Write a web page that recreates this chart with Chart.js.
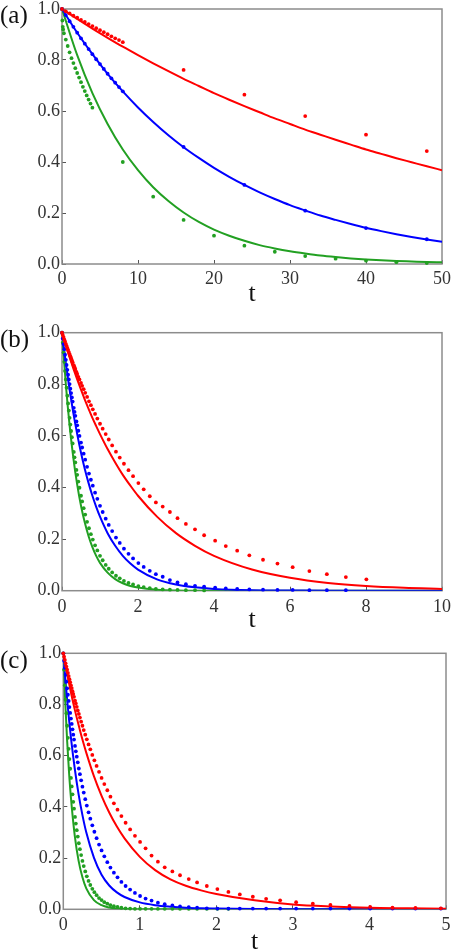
<!DOCTYPE html>
<html><head><meta charset="utf-8">
<script src="https://cdn.jsdelivr.net/npm/chart.js@4.4.1/dist/chart.umd.min.js"></script>
<style>
html,body{margin:0;padding:0;background:#fff;overflow:hidden;width:452px;height:951px;}
canvas{position:absolute;left:0;}
.lbl{position:absolute;left:0;font-family:'Liberation Serif',serif;font-size:25px;color:#111;line-height:1;}
</style></head><body>
<canvas id="ca" width="452" height="310" style="top:0px"></canvas>
<canvas id="cb" width="452" height="325" style="top:310px"></canvas>
<canvas id="cc" width="452" height="316" style="top:635px"></canvas>
<div class="lbl" style="top:2px">(a)</div>
<div class="lbl" style="top:326px">(b)</div>
<div class="lbl" style="top:647px">(c)</div>
<script>
// ---------- Panel (a) ----------
const tLineA = [0,2,4,6,8,10,12,14,16,18,20,22,24,26,28,30,32,34,36,38,40,42,44,46,48,50];
const redLineA = [1,0.961,0.923,0.887,0.852,0.819,0.787,0.756,0.726,0.698,0.670,0.644,0.619,0.595,0.571,0.549,0.527,0.507,0.487,0.468,0.449,0.432,0.415,0.399,0.383,0.368];
const blueLineA = [1,0.907,0.823,0.746,0.677,0.614,0.557,0.505,0.458,0.416,0.377,0.342,0.310,0.281,0.255,0.231,0.210,0.190,0.173,0.157,0.142,0.129,0.117,0.106,0.096,0.087];
const greenLineA = [1,0.819,0.670,0.549,0.449,0.368,0.301,0.247,0.202,0.165,0.135,0.111,0.091,0.074,0.061,0.050,0.041,0.033,0.027,0.022,0.018,0.015,0.012,0.010,0.008,0.007];
const tDotA = [0,0.5,1,1.5,2,2.5,3,3.5,4,4.5,5,5.5,6,6.5,7,7.5,8,16,24,32,40,48];
const redDotA = [1,0.991,0.983,0.974,0.966,0.957,0.949,0.941,0.933,0.925,0.917,0.909,0.901,0.893,0.885,0.878,0.870,0.761,0.664,0.580,0.507,0.443];
const blueDotA = [1,0.976,0.952,0.930,0.907,0.885,0.864,0.843,0.823,0.803,0.784,0.765,0.746,0.728,0.711,0.694,0.677,0.459,0.310,0.209,0.141,0.097];
const tDotGA = [0,0.05,0.1,0.15,0.25,0.5,0.75,1,1.25,1.5,1.75,2,2.25,2.5,2.75,3,3.25,3.5,3.75,4,8,12,16,20,24,28,32,36,40,44,48];
const greenDotA = [1.0,0.955,0.93,0.92,0.905,0.88,0.855,0.83,0.807,0.788,0.768,0.749,0.731,0.713,0.695,0.678,0.661,0.645,0.629,0.613,0.40,0.264,0.173,0.111,0.072,0.048,0.031,0.021,0.013,0.007,0.004];
const xTicksA = [0,10,20,30,40,50];

// ---------- Panel (b) ----------
const tLineB = [0,0.1,0.2,0.3,0.4,0.5,0.6,0.7,0.8,0.9,1.0,1.2,1.4,1.6,1.8,2.0,2.5,3.0,3.5,4.0,5.0,6.0,7.0,8.0,9.0,10.0];
const redLineB = [1,0.951,0.905,0.861,0.819,0.779,0.741,0.705,0.670,0.638,0.607,0.549,0.497,0.449,0.407,0.368,0.287,0.223,0.174,0.135,0.082,0.050,0.030,0.018,0.011,0.007];
const blueLineB = [1,0.882,0.779,0.687,0.607,0.535,0.472,0.417,0.368,0.325,0.287,0.223,0.174,0.135,0.105,0.082,0.044,0.024,0.013,0.007,0.002,0.001,0,0,0,0];
const greenLineB = [1,0.801,0.641,0.513,0.411,0.329,0.264,0.211,0.169,0.135,0.108,0.070,0.045,0.029,0.018,0.012,0.004,0.001,0,0,0,0,0,0,0,0];
const tDotB = [0,0.02,0.04,0.06,0.08,0.10,0.12,0.14,0.16,0.18,0.20,0.22,0.24,0.26,0.28,
  0.31,0.33,0.35,0.38,0.40,0.43,0.46,0.50,0.53,0.57,
  0.61,0.66,0.71,0.76,0.81,0.87,0.93,1.00,1.07,1.15,
  1.23,1.32,1.42,1.52,1.63,1.75,1.87,2.01,2.15,2.31,
  2.47,2.65,2.84,3.04,3.26,3.50,3.74,4.03,4.31,4.61,
  4.93,5.29,5.67,6.07,6.51,6.97,7.47,8.01];
const redDotB = [1,0.991,0.983,0.974,0.966,0.957,0.949,0.941,0.933,0.925,0.917,0.909,0.901,0.893,0.885,
  0.874,0.866,0.859,0.848,0.840,0.829,0.819,0.805,0.794,0.781,
  0.767,0.751,0.734,0.719,0.703,0.685,0.667,0.647,0.628,0.607,
  0.586,0.563,0.539,0.516,0.492,0.467,0.444,0.417,0.393,0.366,
  0.342,0.326,0.305,0.281,0.259,0.238,0.215,0.194,0.173,0.155,
  0.137,0.120,0.105,0.091,0.076,0.064,0.053,0.044];
const blueDotB = [1,0.978,0.956,0.936,0.915,0.895,0.875,0.856,0.837,0.819,0.801,0.783,0.766,0.749,0.733,
  0.709,0.693,0.678,0.656,0.641,0.620,0.600,0.574,0.555,0.531,
  0.508,0.480,0.454,0.430,0.407,0.380,0.356,0.329,0.305,0.279,
  0.255,0.231,0.206,0.185,0.163,0.143,0.125,0.107,0.092,0.077,
  0.064,0.054,0.041,0.032,0.025,0.019,0.016,0.012,0.009,0.007,
  0.005,0.004,0.003,0.003,0.002,0.002,0.002];
const greenDotB = [1,0.961,0.923,0.887,0.852,0.819,0.787,0.756,0.726,0.698,0.670,0.644,0.619,0.595,0.571,
  0.538,0.517,0.497,0.468,0.449,0.423,0.399,0.368,0.346,0.320,
  0.295,0.267,0.242,0.219,0.198,0.176,0.156,0.135,0.118,0.100,
  0.085,0.071,0.058,0.048,0.038,0.030,0.024,0.018,0.014,0.010,
  0.007,0.005,0.004,0.003,0.002,0.002,0.001];
const xTicksB = [0,2,4,6,8,10];

// ---------- Panel (c) ----------
const tLineC = [0,0.025,0.05,0.075,0.1,0.15,0.2,0.25,0.3,0.4,0.5,0.6,0.7,0.8,1.0,1.2,1.4,1.6,1.8,2.0,2.5,3.0,3.5,4.0,4.5,5.0];
const redLineC = [1,0.96,0.92,0.883,0.847,0.78,0.72,0.663,0.612,0.52,0.443,0.378,0.323,0.277,0.205,0.153,0.117,0.092,0.074,0.060,0.035,0.019,0.011,0.006,0.004,0.002];
const blueLineC = [1,0.905,0.819,0.741,0.670,0.549,0.449,0.368,0.301,0.202,0.135,0.093,0.066,0.048,0.027,0.016,0.010,0.006,0.004,0.003,0.001,0,0,0,0,0];
const greenLineC = [1,0.812,0.659,0.535,0.435,0.287,0.189,0.125,0.082,0.036,0.016,0.007,0.003,0.001,0,0,0,0,0,0,0,0,0,0,0,0];
const tDotC = [0,0.01,0.02,0.03,0.04,0.05,0.06,0.07,0.08,0.09,0.10,0.11,0.12,0.13,0.14,
  0.153,0.164,0.176,0.189,0.203,0.217,0.233,0.250,0.267,0.287,
  0.307,0.330,0.353,0.379,0.406,0.435,0.467,0.500,0.536,0.575,
  0.616,0.661,0.708,0.759,0.814,0.873,0.936,1.003,1.075,1.153,
  1.236,1.325,1.425,1.525,1.639,1.748,1.875,2.013,2.157,2.306,
  2.476,2.650,2.833,3.042,3.260,3.490,3.739,4.009,4.301,4.601,
  4.933];
const redDotC = [1,0.987,0.974,0.961,0.948,0.936,0.923,0.911,0.899,0.887,0.875,0.864,0.852,0.841,0.830,
  0.815,0.804,0.791,0.777,0.763,0.749,0.733,0.717,0.700,0.682,
  0.664,0.644,0.625,0.603,0.582,0.560,0.537,0.513,0.489,0.465,
  0.440,0.414,0.389,0.364,0.338,0.312,0.287,0.263,0.238,0.210,
  0.186,0.164,0.148,0.133,0.118,0.105,0.091,0.079,0.068,0.058,
  0.049,0.041,0.035,0.028,0.022,0.017,0.013,0.009,0.006,0.005,
  0.004];
const blueDotC = [1,0.971,0.943,0.916,0.889,0.863,0.838,0.814,0.790,0.767,0.745,0.724,0.703,0.682,0.663,
  0.638,0.617,0.596,0.574,0.550,0.528,0.504,0.479,0.456,0.430,
  0.405,0.379,0.354,0.328,0.303,0.278,0.253,0.230,0.207,0.184,
  0.163,0.143,0.125,0.107,0.091,0.077,0.064,0.052,0.042,0.034,
  0.026,0.020,0.015,0.011,0.008,0.006,0.004,0.003,0.003,0.003,
  0.003,0.003,0.003,0.003,0.003,0.003,0.003,0.003,0.003,0.003,
  0.003];
const greenDotC = [1,0.936,0.875,0.819,0.766,0.717,0.670,0.627,0.587,0.549,0.513,0.480,0.449,0.420,0.393,
  0.361,0.335,0.309,0.284,0.258,0.235,0.212,0.189,0.169,0.148,
  0.129,0.111,0.095,0.080,0.067,0.055,0.044,0.036,0.028,0.022,
  0.016,0.012,0.009,0.006,0.004,0.003,0.002,0.002,0.002,0.002,
  0.002,0.002,0.002,0.002,0.002,0.002,0.002,0.002,0.002];
const xTicksC = [0,1,2,3,4,5];
const yTicks = [0,0.2,0.4,0.6,0.8,1.0];

const RED = 'rgb(255,0,0)', BLUE = 'rgb(0,0,255)', GREEN = 'rgb(34,160,34)';
const FONT = "'Liberation Serif', 'Times New Roman', serif";

const framePlugin = {
  id: 'frame',
  beforeDatasetsDraw(chart) {
    const a = chart.chartArea, ctx = chart.ctx;
    ctx.save();
    ctx.strokeStyle = '#8c8c8c';
    ctx.lineWidth = 1.5;
    ctx.strokeRect(a.left, a.top, a.right - a.left, a.bottom - a.top);
    ctx.restore();
  }
};

function pts(t, v) { return v.map((y, i) => ({x: t[i], y: y})); }
function dotSet(t, v, c) {
  return {data: pts(t, v), showLine: false, pointRadius: 1.9, pointBackgroundColor: c,
          pointBorderWidth: 0, pointBorderColor: c, clip: false};
}
function lineSet(t, v, c) {
  return {data: pts(t, v), showLine: true, borderColor: c, borderWidth: 2, pointRadius: 0,
          cubicInterpolationMode: 'monotone', fill: false};
}

function makeChart(id, cfg) {
  new Chart(document.getElementById(id), {
    type: 'scatter',
    data: {datasets: cfg.datasets},
    options: {
      responsive: false, animation: false, events: [],
      layout: {padding: {top: cfg.top, right: cfg.right, left: 0, bottom: 0}},
      plugins: {legend: {display: false}, tooltip: {enabled: false}},
      scales: {
        x: {
          type: 'linear', min: 0, max: cfg.xTicks[cfg.xTicks.length - 1],
          afterBuildTicks: s => { s.ticks = cfg.xTicks.map(v => ({value: v})); },
          ticks: {padding: cfg.xpad, color: '#333', font: {family: FONT, size: 18}, maxRotation: 0, autoSkip: false},
          grid: {drawOnChartArea: false, tickLength: -4, color: '#555', lineWidth: 1},
          border: {display: false},
          title: {display: true, text: 't', color: '#111', font: {family: FONT, size: 26, lineHeight: 1},
                  padding: {top: 0, bottom: cfg.tpad}},
          afterFit: s => { s.height = cfg.xh; s.paddingLeft = 0; s.paddingRight = 0; }
        },
        y: {
          type: 'linear', min: 0, max: 1,
          afterBuildTicks: s => { s.ticks = yTicks.map(v => ({value: v})); },
          ticks: {padding: 6, color: '#333', font: {family: FONT, size: 18}, callback: v => Number(v).toFixed(1)},
          grid: {drawOnChartArea: false, tickLength: -4, color: '#555', lineWidth: 1},
          border: {display: false},
          afterFit: s => { s.width = cfg.yw; s.paddingTop = 0; s.paddingBottom = 0; }
        }
      }
    },
    plugins: [framePlugin]
  });
}

makeChart('ca', {
  top: 9, right: 10, yw: 62, xh: 46, xpad: 8, tpad: 3, xTicks: xTicksA,
  datasets: [
    dotSet(tDotA, redDotA, RED), dotSet(tDotA, blueDotA, BLUE), dotSet(tDotGA, greenDotA, GREEN),
    lineSet(tLineA, redLineA, RED), lineSet(tLineA, blueLineA, BLUE), lineSet(tLineA, greenLineA, GREEN)
  ]
});
makeChart('cb', {
  top: 22.7, right: 10, yw: 62, xh: 44.3, xpad: 9.5, tpad: 2, xTicks: xTicksB,
  datasets: [
    dotSet(tDotB, redDotB, RED), dotSet(tDotB, blueDotB, BLUE), dotSet(tDotB, greenDotB, GREEN),
    lineSet(tLineB, redLineB, RED), lineSet(tLineB, blueLineB, BLUE), lineSet(tLineB, greenLineB, GREEN)
  ]
});
makeChart('cc', {
  top: 18.3, right: 6, yw: 63.3, xh: 41.7, xpad: 9, tpad: -4, xTicks: xTicksC,
  datasets: [
    dotSet(tDotC, redDotC, RED), dotSet(tDotC, blueDotC, BLUE), dotSet(tDotC, greenDotC, GREEN),
    lineSet(tLineC, redLineC, RED), lineSet(tLineC, blueLineC, BLUE), lineSet(tLineC, greenLineC, GREEN)
  ]
});
</script>
</body></html>
